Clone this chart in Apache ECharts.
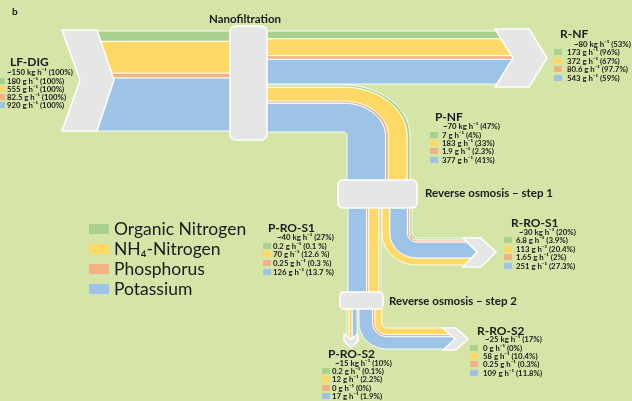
<!DOCTYPE html>
<html>
<head>
<meta charset="utf-8">
<script src="https://cdn.jsdelivr.net/npm/echarts@6/dist/echarts.min.js"></script>
<style>
  html, body { margin: 0; padding: 0; background: #d5e5a7; }
  #chart { width: 632px; height: 401px; }
</style>
</head>
<body>
<div id="chart"></div>
<script>
// nutrients = series, streams = data points of each series
const nutrients = ['Organic Nitrogen', 'NH₄-Nitrogen', 'Phosphorus', 'Potassium'];
const streams = ['LF-DIG', 'R-NF', 'P-NF', 'P-RO-S1', 'R-RO-S1', 'R-RO-S2', 'P-RO-S2'];
const streamKg = [150, 80, 70, 40, 30, 25, 15];
const streamPct = [100, 53, 47, 27, 20, 17, 10];

// g/h per stream
const organicN = [180, 173, 7, 0.2, 6.8, 0, 0.2];
const ammoniumN = [555, 372, 183, 70, 113, 58, 12];
const phosphorus = [82.5, 80.6, 1.9, 0.25, 1.65, 0.25, 0];
const potassium = [920, 543, 377, 126, 251, 109, 17];

// share of the input, %
const organicNPct = [100, 96, 4, 0.1, 3.9, 0, 0.1];
const ammoniumNPct = [100, 67, 33, 12.6, 20.4, 10.4, 2.2];
const phosphorusPct = [100, 97.7, 2.3, 0.3, 2, 0.3, 0];
const potassiumPct = [100, 59, 41, 13.7, 27.3, 11.8, 1.9];

const valueSets = [organicN, ammoniumN, phosphorus, potassium];
const pctSets = [organicNPct, ammoniumNPct, phosphorusPct, potassiumPct];
const colors = ['#a9d18e', '#ffd966', '#f4b183', '#9dc3e6'];
const GREY = '#e7e6e6';
const INK = '#1a1a1a';

// pipe layout for each stream (pixel space of the hidden axes)
// order = nutrient order from the outer / left edge of the pipe
const pipes = [
    { type: 'h', x0: 97, x1: 240, y0: 31, w: 100, order: [0, 1, 2, 3] },
    { type: 'h', x0: 255, x1: 513, y0: 31, w: 53, order: [0, 1, 2, 3] },
    { type: 'hd', x0: 255, y0: 85, wH: 47, cx: 344, cy: 136, xo: 410, wV: 63, y1: 190, order: [0, 1, 2, 3] },
    { type: 'v', x0: 348, y0: 200, y1: 300, w: 33, order: [3, 2, 1, 0] },
    { type: 'vr', xo: 382, y0: 200, wV: 30, cx: 417, cy: 233, yo: 265, wH: 27, x1: 477, order: [1, 3, 2, 0] },
    { type: 'vr', xo: 359, y0: 300, wV: 23, cx: 387, cy: 323, yo: 349, wH: 21, x1: 455, order: [3, 2, 1, 0] },
    { type: 'v', x0: 347, y0: 300, y1: 339, w: 10, order: [0, 1, 2, 3] }
];

// where the text block of each stream sits
const labelLayout = [
    { tx: 10, ty: 62, kx: 7, ky: 72, bx: -3, lx: 7, ly: [81, 89, 97, 105], sp: '' },
    { tx: 560, ty: 34, kx: 574, ky: 44, bx: 554, lx: 567, ly: [52, 61, 69, 78], sp: '' },
    { tx: 435, ty: 117, kx: 443, ky: 126, bx: 430, lx: 442, ly: [135, 143, 151, 160], sp: '' },
    { tx: 268, ty: 228, kx: 277, ky: 237, bx: 263, lx: 273, ly: [246, 254, 263, 272], sp: ' ' },
    { tx: 511, ty: 223, kx: 519, ky: 232, bx: 504, lx: 516, ly: [240, 249, 257, 266], sp: '' },
    { tx: 477, ty: 331, kx: 485, ky: 339, bx: 470, lx: 483, ly: [348, 356, 364, 373], sp: '' },
    { tx: 328, ty: 354, kx: 335, ky: 363, bx: 322, lx: 332, ly: [371, 379, 388, 396], sp: '' }
];

function bandRange(i, k) {
    const p = pipes[i];
    const w = p.w || Math.min(p.wH, p.wV);
    const vals = valueSets.map(a => a[i]);
    const sum = vals.reduce((a, b) => a + b, 0);
    const minF = 2.4 / w;
    const f = vals.map(v => v > 0 ? Math.max(v / sum, minF) : 0);
    const fs = f.reduce((a, b) => a + b, 0);
    let acc = 0;
    for (const n of p.order) {
        if (n === k) return [acc / fs, (acc + f[n]) / fs];
        acc += f[n];
    }
    return null;
}

// one edge of a band, at fraction t across the pipe, along the flow
function edge(p, t) {
    const pts = [];
    const N = 18;
    if (p.type === 'h') {
        const y = p.y0 + t * p.w;
        pts.push([p.x0, y], [p.x1, y]);
    } else if (p.type === 'v') {
        const x = p.x0 + t * p.w;
        pts.push([x, p.y0], [x, p.y1]);
    } else if (p.type === 'hd') {
        const y = p.y0 + t * p.wH, x = p.xo - t * p.wV;
        const rx = x - p.cx, ry = p.cy - y;
        pts.push([p.x0, y]);
        for (let j = 0; j <= N; j++) {
            const a = j / N * Math.PI / 2;
            pts.push([p.cx + rx * Math.sin(a), p.cy - ry * Math.cos(a)]);
        }
        pts.push([x, p.y1]);
    } else if (p.type === 'vr') {
        const x = p.xo + t * p.wV, y = p.yo - t * p.wH;
        const rx = p.cx - x, ry = y - p.cy;
        pts.push([x, p.y0]);
        for (let j = 0; j <= N; j++) {
            const a = j / N * Math.PI / 2;
            pts.push([p.cx - rx * Math.cos(a), p.cy + ry * Math.sin(a)]);
        }
        pts.push([p.x1, y]);
    }
    return pts;
}

function renderBand(params, api) {
    const i = api.value(0);
    const k = params.seriesIndex;
    if (!(api.value(1) > 0)) return null;
    const r = bandRange(i, k);
    if (!r) return null;
    const p = pipes[i];
    const pts = edge(p, r[0]).concat(edge(p, r[1]).reverse()).map(q => api.coord(q));
    return {
        type: 'polygon',
        shape: { points: pts },
        style: { fill: colors[k], stroke: '#ffffff', lineWidth: 0.9 }
    };
}

const series = nutrients.map((name, k) => ({
    name: name,
    type: 'custom',
    coordinateSystem: 'cartesian2d',
    clip: false,
    itemStyle: { color: colors[k] },
    renderItem: renderBand,
    data: streams.map((s, i) => [i, valueSets[k][i]])
}));

// decorations: chevrons, membrane boxes, texts
const graphics = [];
function poly(points) {
    graphics.push({ type: 'polygon', z: 100, shape: { points: points },
        style: { fill: GREY, stroke: '#ffffff', lineWidth: 1.5 } });
}
function box(x, y, w, h, r) {
    graphics.push({ type: 'rect', z: 100, shape: { x: x, y: y, width: w, height: h, r: r },
        style: { fill: GREY, stroke: '#ffffff', lineWidth: 1.5 } });
}
function text(str, x, y, font, align) {
    graphics.push({ type: 'text', z: 110, x: x, y: y,
        style: { text: str, font: font, fill: INK, align: align || 'left', verticalAlign: 'middle' } });
}

poly([[62, 30], [97, 30], [114, 80], [97, 131], [62, 131], [80, 80]]);
poly([[495, 29], [529, 29], [547, 58], [529, 87], [495, 87], [513, 58]]);
poly([[463, 238], [481, 238], [496, 252], [481, 267], [463, 267], [477, 252]]);
poly([[443, 328], [456, 328], [468, 339], [456, 350], [443, 350], [455, 339]]);
poly([[344, 334], [351, 339], [358, 334], [358, 341], [351, 348], [344, 341]]);
box(230, 26, 37, 114, 6);
box(338, 180, 79, 28, 5);
box(340, 292, 43, 17, 4);

text('b', 12, 12, 'bold 10px Lato');
text('Nanofiltration', 245, 19, 'bold 11.5px Lato', 'center');
text('Reverse osmosis – step 1', 425, 193, 'bold 11.5px Lato');
text('Reverse osmosis – step 2', 389, 301, 'bold 11.5px Lato');

labelLayout.forEach((L, i) => {
    text(streams[i], L.tx, L.ty, 'bold 12px Lato');
    text('~' + streamKg[i] + ' kg h⁻¹ (' + streamPct[i] + '%)', L.kx, L.ky, 'bold 7.8px Lato');
    L.ly.forEach((y, k) => {
        graphics.push({ type: 'rect', z: 105, shape: { x: L.bx, y: y - 3, width: 8, height: 6 },
            style: { fill: colors[k] } });
        text(valueSets[k][i] + ' g h⁻¹ (' + pctSets[k][i] + L.sp + '%)', L.lx, y, 'bold 7.8px Lato');
    });
});

const chart = echarts.init(document.getElementById('chart'));
chart.setOption({
    backgroundColor: '#d5e5a7',
    animation: false,
    grid: { left: 0, right: 0, top: 0, bottom: 0 },
    xAxis: { type: 'value', min: 0, max: 632, show: false },
    yAxis: { type: 'value', min: 0, max: 401, inverse: true, show: false },
    legend: {
        orient: 'vertical',
        left: 84,
        top: 215,
        icon: 'rect',
        itemWidth: 20,
        itemHeight: 10,
        itemGap: 2,
        selectedMode: false,
        textStyle: { fontFamily: 'Lato', fontSize: 17.5, lineHeight: 17, color: INK }
    },
    graphic: { elements: graphics },
    series: series
});
</script>
</body>
</html>
